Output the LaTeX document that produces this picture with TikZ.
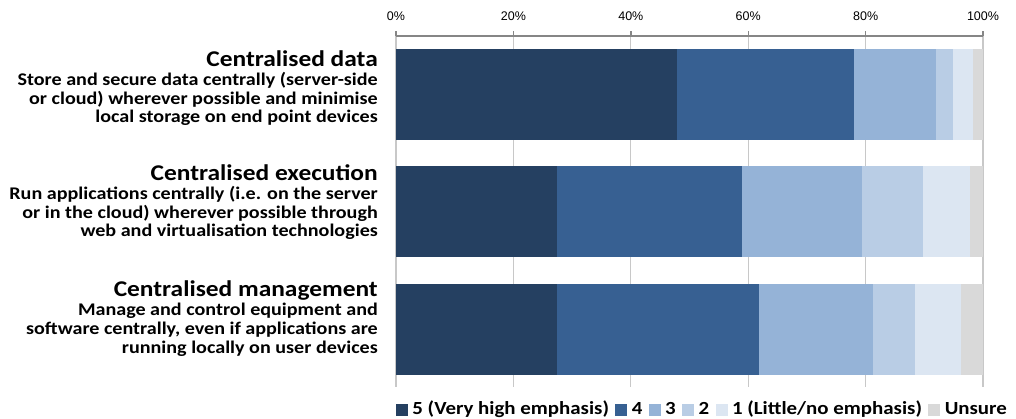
\documentclass[tikz,border=0pt]{standalone}
\usepackage{fontspec}
\setmainfont{Carlito}[FakeStretch=1.13]
\newfontfamily\tickfont{Liberation Sans}
\usetikzlibrary{positioning}

\definecolor{lvfive}{HTML}{254061}
\definecolor{lvfour}{HTML}{376092}
\definecolor{lvthree}{HTML}{95B3D7}
\definecolor{lvtwo}{HTML}{B9CDE5}
\definecolor{lvone}{HTML}{DCE6F2}
\definecolor{lvunsure}{HTML}{D9D9D9}
\definecolor{gridgray}{HTML}{C8C8C8}
\definecolor{axisgray}{HTML}{868686}

\tikzset{
  gridline/.style={draw=gridgray, line width=1.2pt},
  axisline/.style={draw=axisgray, line width=1.4pt},
  ticklabel/.style={font=\tickfont\fontsize{12.5}{14}\selectfont, anchor=base, inner sep=0pt},
  rowtitle/.style={font=\bfseries\fontsize{22.5}{24}\selectfont, anchor=base east, inner sep=0pt},
  rowtext/.style={font=\bfseries\fontsize{17.8}{19}\selectfont, anchor=base east, inner sep=0pt},
  legsquare/.style={minimum width=12pt, minimum height=12pt, inner sep=0pt},
  legtext/.style={font=\bfseries\fontsize{18.5}{20}\selectfont, inner sep=0pt, anchor=base west},
}

\begin{document}
\begin{tikzpicture}[x=1pt, y=-1pt]
\useasboundingbox[fill=white] (0,0) rectangle (1016,419);

% plot area: 0% at x=396, 100% at x=983
\begin{scope}[shift={(396pt,0pt)}, x=5.87pt]
  % vertical grid lines
  \foreach \p in {0,20,...,100}
    \draw[gridline] (\p,36) -- (\p,387);
  % stacked bars (cumulative percentages)
  \foreach \yt/\a/\b/\c/\d/\e in {49/47.9/78.0/92.0/94.9/98.3,
                                 166.4/27.5/58.9/79.3/89.7/97.8,
                                 283.8/27.4/61.8/81.3/88.4/96.3}{
    \fill[lvfive]   (0,\yt)  rectangle (\a,\yt+90.8);
    \fill[lvfour]   (\a,\yt) rectangle (\b,\yt+90.8);
    \fill[lvthree]  (\b,\yt) rectangle (\c,\yt+90.8);
    \fill[lvtwo]    (\c,\yt) rectangle (\d,\yt+90.8);
    \fill[lvone]    (\d,\yt) rectangle (\e,\yt+90.8);
    \fill[lvunsure] (\e,\yt) rectangle (100,\yt+90.8);
  }
  % top axis with tick marks and labels
  \draw[axisline] (0,36) -- (100,36);
  \foreach \p in {0,20,...,100}{
    \draw[axisline] (\p,31.5) -- (\p,36);
    \node[ticklabel] (tick\p) at (\p,21) {\p\%};
  }
\end{scope}

% category labels
\node[rowtitle] (titleA) at (378,66.5) {Centralised data};
\node[rowtext] (textA1) at (378,85.5) {Store and secure data centrally (server-side};
\node[rowtext] (textA2) at (378,104.3) {or cloud) wherever possible and minimise};
\node[rowtext] (textA3) at (378,123) {local storage on end point devices};

\node[rowtitle] (titleB) at (378,180.5) {Centralised execution};
\node[rowtext] (textB1) at (378,199.5) {Run applications centrally (i.e. on the server};
\node[rowtext] (textB2) at (378,218.3) {or in the cloud) wherever possible through};
\node[rowtext] (textB3) at (378,237) {web and virtualisation technologies};

\node[rowtitle] (titleC) at (378,297) {Centralised management};
\node[rowtext] (textC1) at (378,316) {Manage and control equipment and};
\node[rowtext] (textC2) at (378,334.8) {software centrally, even if applications are};
\node[rowtext] (textC3) at (378,353.5) {running locally on user devices};

% legend
\node[legsquare, fill=lvfive] (sq5) at (402,409.5) {};
\node[legtext] (lg5) at ([xshift=4pt]sq5.east |- 0,414.5) {5 (Very high emphasis)};
\node[legsquare, fill=lvfour, right=6pt of sq5.east -| lg5.east, anchor=west] (sq4) {};
\node[legtext] (lg4) at ([xshift=4pt]sq4.east |- 0,414.5) {4};
\node[legsquare, fill=lvthree, right=6pt of sq4.east -| lg4.east, anchor=west] (sq3) {};
\node[legtext] (lg3) at ([xshift=4pt]sq3.east |- 0,414.5) {3};
\node[legsquare, fill=lvtwo, right=6pt of sq3.east -| lg3.east, anchor=west] (sq2) {};
\node[legtext] (lg2) at ([xshift=4pt]sq2.east |- 0,414.5) {2};
\node[legsquare, fill=lvone, right=6pt of sq2.east -| lg2.east, anchor=west] (sq1) {};
\node[legtext] (lg1) at ([xshift=4pt]sq1.east |- 0,414.5) {1 (Little/no emphasis)};
\node[legsquare, fill=lvunsure, right=6pt of sq1.east -| lg1.east, anchor=west] (sqU) {};
\node[legtext] (lgU) at ([xshift=4pt]sqU.east |- 0,414.5) {Unsure};
\end{tikzpicture}
\end{document}
